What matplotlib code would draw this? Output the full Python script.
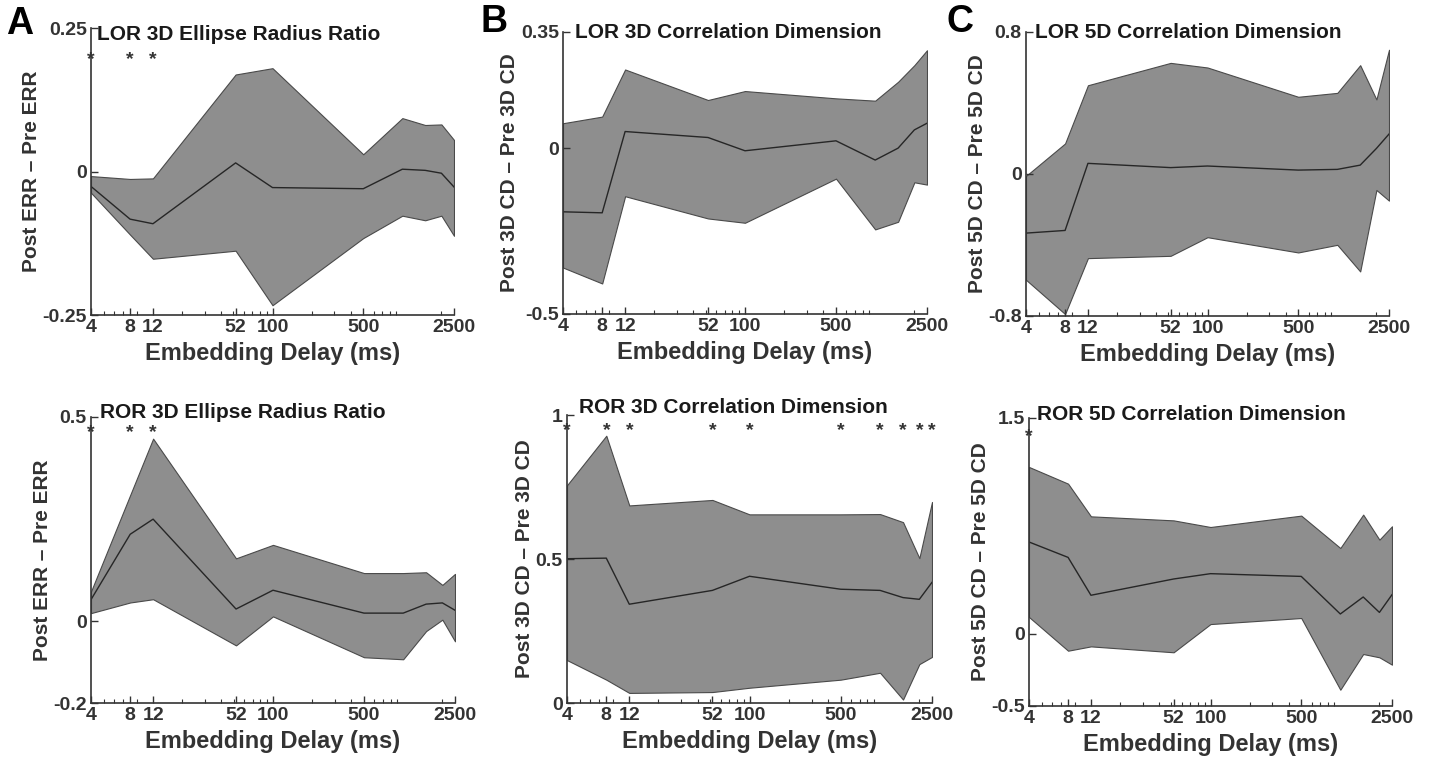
import numpy as np
import matplotlib.pyplot as plt
from matplotlib.ticker import FixedLocator, LogLocator, NullFormatter

plt.rcParams['font.family'] = ['Liberation Sans', 'DejaVu Sans']
plt.rcParams['font.weight'] = 'bold'
plt.rcParams['axes.labelweight'] = 'bold'

delays = [4, 8, 12, 52, 100, 500, 1000, 1500, 2000, 2500]
xticks = [4, 8, 12, 52, 100, 500, 2500]

# LOR 3D ellipse radius ratio
lor_err_hi = [-0.008, -0.013, -0.012, 0.169, 0.180, 0.030, 0.093, 0.081, 0.082, 0.055]
lor_err_mean = [-0.026, -0.083, -0.091, 0.015, -0.028, -0.030, 0.004, 0.002, -0.003, -0.027]
lor_err_lo = [-0.037, -0.110, -0.152, -0.138, -0.233, -0.116, -0.077, -0.085, -0.077, -0.112]
lor_err_sig = [4, 8, 12]

# LOR 3D correlation dimension
lor_cd3_hi = [0.075, 0.095, 0.237, 0.145, 0.172, 0.150, 0.143, 0.200, 0.250, 0.295]
lor_cd3_mean = [-0.192, -0.195, 0.050, 0.032, -0.008, 0.022, -0.036, 0.000, 0.055, 0.075]
lor_cd3_lo = [-0.360, -0.408, -0.145, -0.212, -0.225, -0.092, -0.245, -0.222, -0.103, -0.110]
lor_cd3_sig = []

# LOR 5D correlation dimension
lor_cd5_hi = [-0.011, 0.172, 0.500, 0.626, 0.600, 0.435, 0.457, 0.613, 0.420, 0.700]
lor_cd5_mean = [-0.333, -0.318, 0.060, 0.036, 0.045, 0.022, 0.026, 0.050, 0.144, 0.225]
lor_cd5_lo = [-0.596, -0.789, -0.474, -0.461, -0.356, -0.442, -0.399, -0.549, -0.090, -0.150]
lor_cd5_sig = []

# ROR 3D ellipse radius ratio
ror_err_hi = [0.073, 0.309, 0.447, 0.154, 0.187, 0.118, 0.118, 0.120, 0.089, 0.116]
ror_err_mean = [0.053, 0.213, 0.250, 0.030, 0.076, 0.020, 0.020, 0.042, 0.045, 0.027]
ror_err_lo = [0.020, 0.046, 0.054, -0.059, 0.012, -0.088, -0.093, -0.024, 0.004, -0.049]
ror_err_sig = [4, 8, 12]

# ROR 3D correlation dimension
ror_cd3_hi = [0.756, 0.928, 0.686, 0.705, 0.655, 0.655, 0.656, 0.628, 0.503, 0.698]
ror_cd3_mean = [0.501, 0.503, 0.343, 0.391, 0.440, 0.395, 0.391, 0.366, 0.360, 0.419]
ror_cd3_lo = [0.149, 0.081, 0.035, 0.038, 0.053, 0.081, 0.105, 0.012, 0.135, 0.160]
ror_cd3_sig = [4, 8, 12, 52, 100, 500, 1000, 1500, 2000, 2500]

# ROR 5D correlation dimension
ror_cd5_hi = [1.160, 1.044, 0.817, 0.789, 0.743, 0.822, 0.597, 0.829, 0.655, 0.748]
ror_cd5_mean = [0.639, 0.532, 0.269, 0.382, 0.419, 0.400, 0.139, 0.257, 0.150, 0.273]
ror_cd5_lo = [0.118, -0.116, -0.086, -0.127, 0.069, 0.111, -0.387, -0.139, -0.162, -0.213]
ror_cd5_sig = [4]

W, H = 1429, 759
fig = plt.figure(figsize=(W / 100, H / 100), dpi=100)
ink = '#333333'

panels = [
    # pixel box (left, top, right, bottom), title position, data
    dict(box=(91, 28, 454, 315), tpos=(97, 35), title='LOR 3D Ellipse Radius Ratio',
         ylabel='Post ERR \u2013 Pre ERR', ylim=(-0.25, 0.25), yticks=[-0.25, 0, 0.25],
         ylabels=['-0.25', '0', '0.25'], hi=lor_err_hi, mean=lor_err_mean, lo=lor_err_lo,
         sig=lor_err_sig, sig_y=0.195),
    dict(box=(563, 32, 927, 314), tpos=(575, 33), title='LOR 3D Correlation Dimension',
         ylabel='Post 3D CD \u2013 Pre 3D CD', ylim=(-0.5, 0.35), yticks=[-0.5, 0, 0.35],
         ylabels=['-0.5', '0', '0.35'], hi=lor_cd3_hi, mean=lor_cd3_mean, lo=lor_cd3_lo,
         sig=lor_cd3_sig, sig_y=0.3),
    dict(box=(1026, 32, 1389, 316), tpos=(1035, 33), title='LOR 5D Correlation Dimension',
         ylabel='Post 5D CD \u2013 Pre 5D CD', ylim=(-0.8, 0.8), yticks=[-0.8, 0, 0.8],
         ylabels=['-0.8', '0', '0.8'], hi=lor_cd5_hi, mean=lor_cd5_mean, lo=lor_cd5_lo,
         sig=lor_cd5_sig, sig_y=0.7),
    dict(box=(91, 417, 455, 703), tpos=(100, 412), title='ROR 3D Ellipse Radius Ratio',
         ylabel='Post ERR \u2013 Pre ERR', ylim=(-0.2, 0.5), yticks=[-0.2, 0, 0.5],
         ylabels=['-0.2', '0', '0.5'], hi=ror_err_hi, mean=ror_err_mean, lo=ror_err_lo,
         sig=ror_err_sig, sig_y=0.462),
    dict(box=(567, 415, 932, 703), tpos=(579, 407), title='ROR 3D Correlation Dimension',
         ylabel='Post 3D CD \u2013 Pre 3D CD', ylim=(0, 1), yticks=[0, 0.5, 1],
         ylabels=['0', '0.5', '1'], hi=ror_cd3_hi, mean=ror_cd3_mean, lo=ror_cd3_lo,
         sig=ror_cd3_sig, sig_y=0.945),
    dict(box=(1029, 418, 1392, 706), tpos=(1037, 415), title='ROR 5D Correlation Dimension',
         ylabel='Post 5D CD \u2013 Pre 5D CD', ylim=(-0.5, 1.5), yticks=[-0.5, 0, 1.5],
         ylabels=['-0.5', '0', '1.5'], hi=ror_cd5_hi, mean=ror_cd5_mean, lo=ror_cd5_lo,
         sig=ror_cd5_sig, sig_y=1.37),
]

for p in panels:
    l, t, r, b = p['box']
    ax = fig.add_axes([l / W, 1 - b / H, (r - l) / W, (b - t) / H])
    ax.fill_between(delays, p['lo'], p['hi'], facecolor='#8e8e8e', edgecolor='#4a4a4a',
                    linewidth=0.8)
    ax.plot(delays, p['mean'], color='#262626', lw=1.0)
    for d in p['sig']:
        ax.text(d, p['sig_y'], '*', ha='center', va='center', fontsize=14, color=ink)

    ax.set_xscale('log')
    ax.set_xlim(4, 2500)
    ax.set_ylim(*p['ylim'])
    ax.xaxis.set_major_locator(FixedLocator(xticks))
    ax.set_xticklabels([str(v) for v in xticks])
    ax.xaxis.set_minor_locator(LogLocator(base=10, subs=range(2, 10), numticks=20))
    ax.xaxis.set_minor_formatter(NullFormatter())
    ax.set_yticks(p['yticks'])
    ax.set_yticklabels(p['ylabels'])
    ax.tick_params(axis='both', which='major', direction='in', length=5, width=1,
                   color=ink, labelsize=14, labelcolor=ink, pad=3)
    ax.tick_params(axis='x', which='minor', direction='in', length=3, width=0.8, color=ink)
    for s in ('top', 'right'):
        ax.spines[s].set_visible(False)
    for s in ('left', 'bottom'):
        ax.spines[s].set_color(ink)
        ax.spines[s].set_linewidth(1.2)
    ax.set_xlabel('Embedding Delay (ms)', fontsize=17, fontweight='bold', color=ink,
                  labelpad=4)
    ax.set_ylabel(p['ylabel'], fontsize=15, fontweight='bold', color=ink, labelpad=1)
    for lab in ax.get_xticklabels() + ax.get_yticklabels():
        lab.set_fontweight('bold')

    tx, ty = p['tpos']
    fig.text(tx / W, 1 - ty / H, p['title'], fontsize=15, fontweight='bold',
             color='#1a1a1a', ha='left', va='center')

for letter, (lx, ly) in zip('ABC', [(20, 24), (494, 22), (960, 22)]):
    fig.text(lx / W, 1 - ly / H, letter, fontsize=27, fontweight='bold', color='black',
             ha='center', va='center')

fig.savefig('out.png', dpi=100, facecolor='white')
